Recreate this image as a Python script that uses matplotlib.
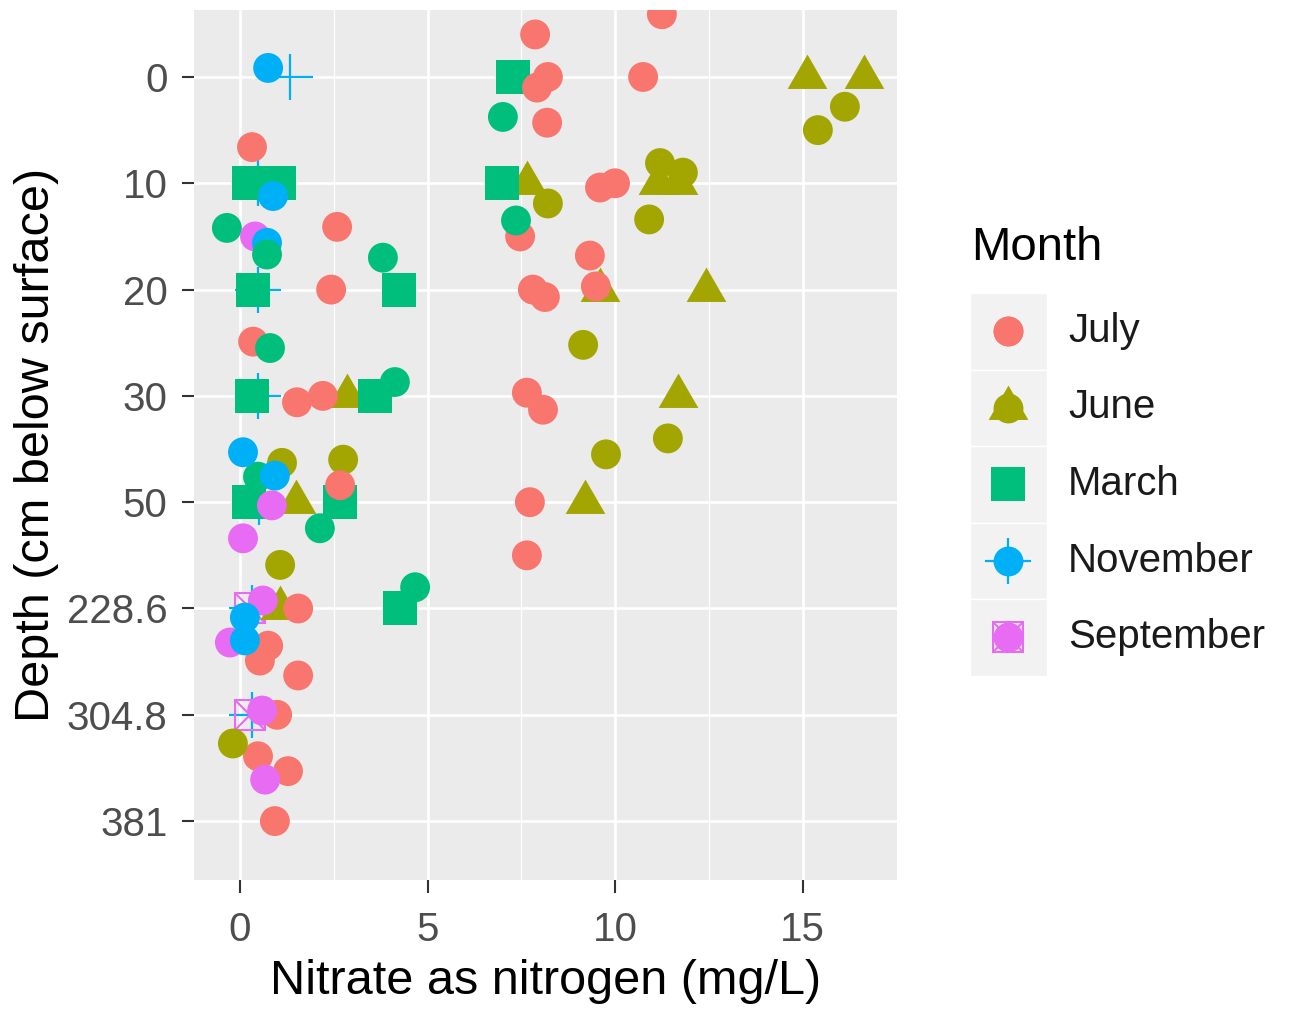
import matplotlib
matplotlib.use("Agg")
import matplotlib.pyplot as plt
from matplotlib.patches import Rectangle

plt.rcParams['font.family'] = ['Liberation Sans', 'DejaVu Sans']

# discrete depth axis, top to bottom
depths = ['0', '10', '20', '30', '50', '228.6', '304.8', '381']
months = ['July', 'June', 'March', 'November', 'September']
colors = {'July': '#F8766D', 'June': '#A3A500', 'March': '#00BF7D',
          'November': '#00B0F6', 'September': '#E76BF3'}

# shape layer (points at the exact depth)
june_x = [15.12, 16.65, 7.65, 11.15, 11.68, 9.6, 12.43, 2.85, 11.68, 1.49, 9.2, 1.07]
june_depth = ['0', '0', '10', '10', '10', '20', '20', '30', '30', '50', '50', '228.6']

march_x = [7.28, 0.24, 1.04, 6.99, 0.35, 4.24, 0.32, 3.6, 0.24, 2.67, 4.27]
march_depth = ['0', '10', '10', '10', '20', '20', '30', '30', '50', '50', '228.6']

november_x = [1.33, 0.48, 0.48, 0.48, 0.51, 0.32, 0.32]
november_depth = ['0', '10', '20', '30', '50', '228.6', '304.8']

september_x = [0.27, 0.27]
september_depth = ['228.6', '304.8']

# jittered circle layer: month, nitrate, depth, vertical jitter (category units)
circ_month = (['July'] * 31 + ['June'] * 13 + ['July'] + ['March'] * 9
              + ['September'] * 7 + ['November'] * 7 + ['March'])
circ_x = [11.25, 7.87, 7.92, 8.21, 10.75, 8.19, 0.32, 7.47, 9.6, 10.0, 2.59,
          2.43, 7.81, 8.13, 9.33, 9.49, 0.35, 1.52, 2.21, 7.65, 8.08, 7.73,
          7.65, 1.55, 0.75, 0.53, 1.55, 0.99, 0.48, 1.28, 0.93,
          16.13, 15.41, 8.21, 11.2, 11.81, 10.91, 9.15, 11.41, 9.76, 1.12,
          2.75, 1.07, -0.19,
          2.67,
          7.01, 7.36, -0.35, 3.81, 0.8, 4.13, 0.48, 2.13, 4.67,
          0.4, 0.85, 0.08, -0.27, 0.61, 0.59, 0.67,
          0.75, 0.88, 0.72, 0.08, 0.93, 0.13, 0.13,
          0.72]
circ_depth = ['0', '0', '0', '0', '0', '0', '10', '20', '10', '10', '10',
              '20', '20', '20', '20', '20', '30', '30', '30', '30', '30', '50',
              '50', '228.6', '228.6', '228.6', '304.8', '304.8', '304.8', '304.8', '381',
              '0', '0', '10', '10', '10', '10', '30', '30', '50', '50',
              '50', '228.6', '304.8',
              '50',
              '0', '10', '10', '20', '30', '30', '50', '50', '228.6',
              '20', '50', '50', '228.6', '228.6', '304.8', '381',
              '0', '10', '20', '50', '50', '228.6', '228.6',
              '20']
circ_dy = [-0.59, -0.40, 0.10, 0.0, 0.0, 0.43, -0.34, -0.50, 0.04, 0.0, 0.41,
           0.0, 0.0, 0.07, -0.32, -0.03, -0.51, 0.06, 0.0, -0.03, 0.13, 0.0,
           0.5, 0.0, 0.35, 0.49, -0.37, 0.0, 0.39, 0.53, 0.0,
           0.28, 0.50, 0.19, -0.19, -0.10, 0.34, -0.48, 0.40, -0.45, -0.37,
           -0.40, -0.41, 0.27,
           -0.16,
           0.376, 0.35, 0.42, -0.30, -0.45, -0.13, -0.24, 0.245, -0.2,
           -0.50, 0.03, 0.34, 0.32, -0.075, -0.04, -0.39,
           -0.085, 0.12, -0.44, -0.47, -0.25, 0.085, 0.30,
           -0.33]


def ypos(depth_list, dy=None):
    if dy is None:
        dy = [0] * len(depth_list)
    return [depths.index(d) + j for d, j in zip(depth_list, dy)]


tri = [(0, 0.6667), (-0.5774, -0.3333), (0.5774, -0.3333)]

fig = plt.figure(figsize=(12.89, 10.10), dpi=100)
ax = fig.add_axes([194 / 1289, 130 / 1010, 703 / 1289, 870 / 1010])
ax.set_facecolor('#EBEBEB')

# shape layer
ax.plot(november_x, ypos(november_depth), ls='none', marker='+', ms=33,
        mew=1.6, color=colors['November'])
ax.plot(september_x, ypos(september_depth), ls='none', marker='s', ms=21,
        mew=1.5, mfc='none', color=colors['September'])
ax.plot(september_x, ypos(september_depth), ls='none', marker='x', ms=21,
        mew=1.5, color=colors['September'])
ax.plot(june_x, ypos(june_depth), ls='none', marker=tri, ms=33,
        mew=0, color=colors['June'])
ax.plot(march_x, ypos(march_depth), ls='none', marker='s', ms=24,
        mew=0, color=colors['March'])

# jittered circles on top
ax.scatter(circ_x, ypos(circ_depth, circ_dy), s=21.5 ** 2,
           c=[colors[m] for m in circ_month], linewidths=0, zorder=3)

ax.set_xlim(-1.227, 17.52)
ax.set_ylim(7.554, -0.63)
ax.set_xticks([0, 5, 10, 15])
ax.set_xticks([2.5, 7.5, 12.5], minor=True)
ax.set_yticks(range(len(depths)))
ax.set_yticklabels(depths)
ax.set_axisbelow(True)
ax.grid(which='major', color='white', lw=1.9)
ax.grid(which='minor', axis='x', color='white', lw=0.9)
for s in ax.spines.values():
    s.set_visible(False)
ax.tick_params(which='major', length=9, width=1.5, color='#333333',
               labelsize=29, labelcolor='#4D4D4D')
ax.tick_params(axis='y', pad=10)
ax.tick_params(axis='x', pad=13)
ax.tick_params(which='minor', length=0)

ax.set_xlabel('Nitrate as nitrogen (mg/L)', fontsize=35)
ax.xaxis.set_label_coords(0.5, (880 - 982) / 870)
ax.xaxis.label.set_va('center')
ax.set_ylabel('Depth (cm below surface)', fontsize=35)
ax.yaxis.set_label_coords((37 - 194) / 703, 0.5)
ax.yaxis.label.set_va('center')

# legend drawn by hand, ggplot style
lax = fig.add_axes([950 / 1289, (1010 - 690) / 1010, 339 / 1289, 480 / 1010])
lax.set_xlim(950, 1289)
lax.set_ylim(690, 210)
lax.axis('off')
lax.text(971, 248, 'Month', fontsize=34, va='center', ha='left', color='black')
shape_style = {
    'July': [dict(marker='o', ms=21.5, mew=0)],
    'June': [dict(marker=tri, ms=33, mew=0)],
    'March': [dict(marker='s', ms=24, mew=0)],
    'November': [dict(marker='+', ms=33, mew=1.6)],
    'September': [dict(marker='s', ms=21, mew=1.5, mfc='none'),
                  dict(marker='x', ms=21, mew=1.5)],
}
for i, m in enumerate(months):
    yc = 331 + i * 76.5
    lax.add_patch(Rectangle((970, yc - 38), 77, 76.5, facecolor='#F2F2F2',
                            edgecolor='white', lw=1))
    for st in shape_style[m]:
        lax.plot([1008], [yc], ls='none', color=colors[m], **st)
    lax.plot([1008], [yc], ls='none', marker='o', ms=21.5, mew=0, color=colors[m])
    lax.text(1068, yc, m, fontsize=29, va='center', ha='left', color='#1A1A1A')

fig.savefig('out.png', dpi=100)
